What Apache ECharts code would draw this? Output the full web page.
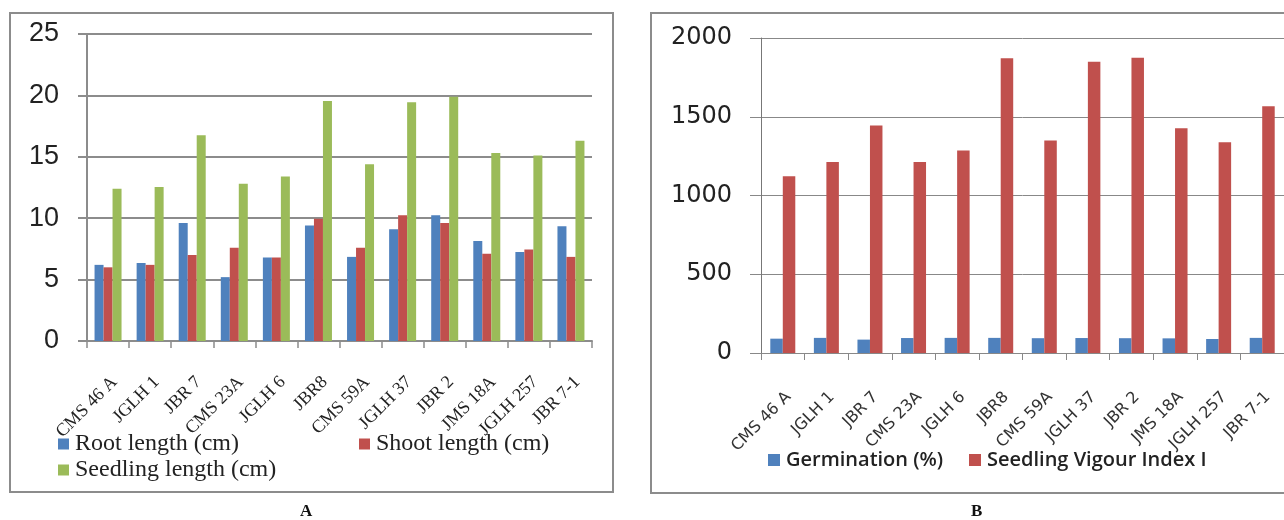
<!DOCTYPE html>
<html>
<head>
<meta charset="utf-8">
<script src="https://cdn.jsdelivr.net/npm/echarts@6/dist/echarts.min.js"></script>
<style>
html,body{margin:0;padding:0;background:#fff;}
#c{width:1284px;height:520px;}
</style>
</head>
<body>
<div id="c"></div>
<script>
const categories = ['CMS 46 A','JGLH 1','JBR 7','CMS 23A','JGLH 6','JBR8','CMS 59A','JGLH 37','JBR 2','JMS 18A','JGLH 257','JBR 7-1'];
const rootLength = [6.2, 6.35, 9.6, 5.2, 6.8, 9.4, 6.85, 9.1, 10.25, 8.15, 7.25, 9.35];
const shootLength = [6.0, 6.2, 7.0, 7.6, 6.8, 9.95, 7.6, 10.25, 9.6, 7.1, 7.45, 6.85];
const seedlingLength = [12.4, 12.55, 16.75, 12.8, 13.4, 19.55, 14.4, 19.45, 19.9, 15.3, 15.1, 16.3];
const germination = [91, 96, 85, 95, 96, 96, 94, 95, 94, 93, 89, 96];
const vigourIndex = [1123, 1212, 1444, 1212, 1285, 1871, 1350, 1849, 1875, 1427, 1338, 1567];
const leftTicks = {min: 0, max: 25, interval: 5};
const rightTicks = {min: 0, max: 2000, interval: 500};

const BLUE = '#4F81BD', RED = '#C0504D', GREEN = '#9BBB59';
const chart = echarts.init(document.getElementById('c'), null, {renderer: 'canvas'});

function legend(name, left, top, font) {
  return {
    data: [name], left: left, top: top, orient: 'horizontal',
    icon: 'rect', itemWidth: font.iw, itemHeight: font.iw, itemGap: 0, padding: 0,
    textStyle: {fontFamily: font.family, fontSize: font.size, fontWeight: font.weight, color: '#222', padding: [0,0,0,font.pad]},
    selectedMode: false
  };
}
const serifLeg = {family: 'Liberation Serif', size: 24, weight: 'normal', iw: 11, pad: 1};
const sansLeg = {family: 'Open Sans', size: 20, weight: 600, iw: 12, pad: 1};

chart.setOption({
  backgroundColor: '#fff',
  animation: false,
  graphic: [
    {type: 'rect', shape: {x: 10, y: 13, width: 603, height: 479}, style: {fill: 'none', stroke: '#8c8c8c', lineWidth: 2}, silent: true},
    {type: 'rect', shape: {x: 651, y: 13, width: 700, height: 480}, style: {fill: 'none', stroke: '#8c8c8c', lineWidth: 2}, silent: true},
    {type: 'text', left: 300, top: 503, style: {text: 'A', font: 'bold 17px "Liberation Serif"', fill: '#111'}},
    {type: 'text', left: 971, top: 503, style: {text: 'B', font: 'bold 17px "Liberation Serif"', fill: '#111'}}
  ],
  legend: [
    legend('Root length (cm)', 58, 432, serifLeg),
    legend('Shoot length (cm)', 359, 432, serifLeg),
    legend('Seedling length (cm)', 58, 458, serifLeg),
    legend('Germination (%)', 768, 450, sansLeg),
    legend('Seedling Vigour Index I', 969, 450, sansLeg)
  ],
  grid: [
    {left: 87, top: 34, width: 505, height: 307, containLabel: false},
    {left: 761, top: 38, width: 527, height: 315, containLabel: false}
  ],
  xAxis: [
    {
      type: 'category', gridIndex: 0, data: categories,
      axisLine: {lineStyle: {color: '#8c8c8c', width: 2}},
      axisTick: {show: true, length: 7, lineStyle: {color: '#8c8c8c', width: 1.5}},
      axisLabel: {rotate: 45, margin: 32, interval: 0, align: 'right', verticalAlign: 'top',
        fontFamily: 'Liberation Serif', fontSize: 18, color: '#222'}
    },
    {
      type: 'category', gridIndex: 1, data: categories,
      axisLine: {lineStyle: {color: '#888', width: 1}},
      axisTick: {show: true, length: 7, lineStyle: {color: '#888'}},
      axisLabel: {rotate: 45, margin: 36, interval: 0, align: 'right', verticalAlign: 'top',
        fontFamily: 'DejaVu Sans', fontSize: 16, color: '#333'}
    }
  ],
  yAxis: [
    {
      type: 'value', gridIndex: 0, min: leftTicks.min, max: leftTicks.max, interval: leftTicks.interval,
      axisLine: {show: true, lineStyle: {color: '#8c8c8c', width: 2}},
      axisTick: {show: true, length: 9, lineStyle: {color: '#8c8c8c', width: 2}},
      splitLine: {lineStyle: {color: '#8c8c8c', width: 2}},
      axisLabel: {margin: 28, fontFamily: 'Liberation Sans', fontSize: 27, color: '#222'}
    },
    {
      type: 'value', gridIndex: 1, min: rightTicks.min, max: rightTicks.max, interval: rightTicks.interval,
      axisLine: {show: true, lineStyle: {color: '#777', width: 1}},
      axisTick: {show: true, length: 11, lineStyle: {color: '#888'}},
      splitLine: {lineStyle: {color: '#888', width: 1}},
      axisLabel: {margin: 29, fontFamily: 'DejaVu Sans', fontSize: 24, color: '#222', formatter: function (v) { return String(v); }}
    }
  ],
  series: [
    {name: 'Root length (cm)', type: 'bar', xAxisIndex: 0, yAxisIndex: 0, data: rootLength, barWidth: 9, barGap: '0%', itemStyle: {color: BLUE}},
    {name: 'Shoot length (cm)', type: 'bar', xAxisIndex: 0, yAxisIndex: 0, data: shootLength, barWidth: 9, barGap: '0%', itemStyle: {color: RED}},
    {name: 'Seedling length (cm)', type: 'bar', xAxisIndex: 0, yAxisIndex: 0, data: seedlingLength, barWidth: 9, barGap: '0%', itemStyle: {color: GREEN}},
    {name: 'Germination (%)', type: 'bar', xAxisIndex: 1, yAxisIndex: 1, data: germination, barWidth: 12.5, barGap: '0%', itemStyle: {color: BLUE}},
    {name: 'Seedling Vigour Index I', type: 'bar', xAxisIndex: 1, yAxisIndex: 1, data: vigourIndex, barWidth: 12.5, barGap: '0%', itemStyle: {color: RED}}
  ]
});
</script>
</body>
</html>
